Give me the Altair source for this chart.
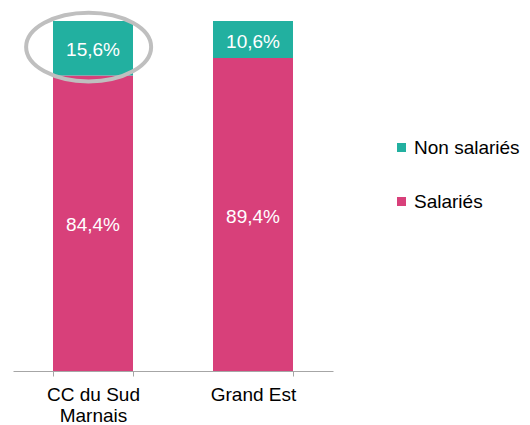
import altair as alt
import pandas as pd

categories = ["CC du Sud\nMarnais", "Grand Est"]
series = ["Non salariés", "Salariés"]
salaries = [84.4, 89.4]
non_salaries = [15.6, 10.6]
highlight_cat = "CC du Sud\nMarnais"
highlight_series = "Non salariés"

colors = ["#22B0A0", "#D8407A"]

rows = []
for i, c in enumerate(categories):
    for s, v, o in [("Salariés", salaries[i], 0), ("Non salariés", non_salaries[i], 1)]:
        rows.append({
            "cat": c,
            "series": s,
            "value": v,
            "ord": o,
            "label": f"{v:.1f}".replace(".", ",") + "%",
            "hl": (c == highlight_cat and s == highlight_series),
        })
df = pd.DataFrame(rows)

FONT = "Liberation Sans"

base = (
    alt.Chart(df)
    .transform_stack(stack="value", as_=["y0", "y1"], groupby=["cat"],
                     sort=[alt.SortField("ord", order="ascending")])
    .transform_calculate(mid="(datum.y0 + datum.y1) / 2")
)

xenc = alt.X(
    "cat:N",
    sort=categories,
    title=None,
    scale=alt.Scale(paddingInner=0.5, paddingOuter=0.25),
    axis=alt.Axis(
        labelExpr="split(datum.label, '\\n')",
        labelAngle=0,
        labelFont=FONT,
        labelFontSize=19,
        labelColor="#000000",
        labelPadding=9,
        labelLineHeight=21,
        tickBand="extent",
        tickSize=5,
        tickColor="#A6A6A6",
        domainColor="#A6A6A6",
        domainWidth=1,
        grid=False,
    ),
)

yscale = alt.Scale(domain=[0, 100], nice=False, zero=True)

bars = base.mark_bar().encode(
    x=xenc,
    y=alt.Y("y0:Q", scale=yscale, axis=None),
    y2="y1:Q",
    color=alt.Color(
        "series:N",
        scale=alt.Scale(domain=series, range=colors),
        legend=alt.Legend(
            title=None,
            orient="none",
            legendX=379,
            legendY=117,
            padding=0,
            symbolType="square",
            symbolSize=81,
            symbolStrokeWidth=0,
            labelFont=FONT,
            labelFontSize=19,
            labelColor="#000000",
            labelOffset=3,
            rowPadding=34,
        ),
    ),
)

text = base.mark_text(color="white", font=FONT, fontSize=19, baseline="middle", dy=2).encode(
    x=alt.X("cat:N", sort=categories),
    y=alt.Y("mid:Q", scale=yscale),
    text="label:N",
)

ellipse_path = "M -1.07 -0.02 A 1 0.55 0 1 0 0.93 -0.02 A 1 0.55 0 1 0 -1.07 -0.02 Z"
ellipse = base.transform_filter("datum.hl").mark_point(
    shape=ellipse_path, size=125 * 125, filled=False, stroke="#BFBFBF", strokeWidth=4, opacity=1
).encode(
    x=alt.X("cat:N", sort=categories),
    y=alt.Y("mid:Q", scale=yscale),
)

chart = (
    alt.layer(bars, text, ellipse)
    .properties(
        width=320,
        height=350,
        padding={"left": 13, "top": 21, "right": 197, "bottom": 54},
        autosize=alt.AutoSizeParams(type="none"),
        background="white",
    )
    .configure_view(stroke=None)
)

chart.save("out.html", embed_options={"renderer": "svg", "actions": False})
